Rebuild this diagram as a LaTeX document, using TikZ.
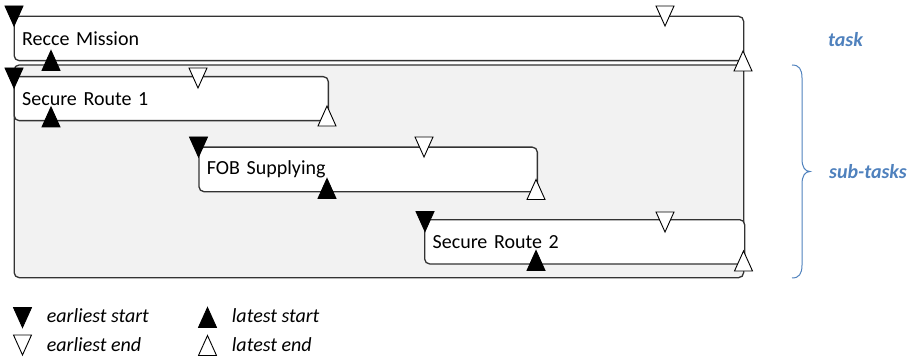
\documentclass[tikz,border=0pt]{standalone}
\usepackage{fontspec}
\setmainfont{Carlito}
\definecolor{officeblue}{HTML}{4F81BD}
\definecolor{subgray}{HTML}{F2F2F2}
\definecolor{edge}{HTML}{333333}
\begin{document}
\begin{tikzpicture}[x=1pt,y=-1pt,
  font=\fontsize{20}{24}\selectfont,
  taskbox/.style={draw=edge, line width=1.3pt, rounded corners=5pt, fill=white,
    anchor=north west, inner xsep=8pt, inner ysep=0pt, align=left},
  groupbox/.style={draw=edge, line width=1.3pt, rounded corners=5pt, fill=subgray,
    anchor=north west, inner sep=0pt},
  tri/.style={draw=black, line width=0.9pt, line join=miter},
  bdown/.pic={\draw[tri, fill=black] (-9,-10) -- (9,-10) -- (0,10) -- cycle;},
  wdown/.pic={\draw[tri, fill=white] (-9,-10) -- (9,-10) -- (0,10) -- cycle;},
  bup/.pic={\draw[tri, fill=black] (-9,10) -- (9,10) -- (0,-10) -- cycle;},
  wup/.pic={\draw[tri, fill=white] (-9,10) -- (9,10) -- (0,-10) -- cycle;},
  legtext/.style={anchor=west, inner sep=0pt, font=\fontsize{20}{24}\selectfont\itshape},
  bluelabel/.style={anchor=west, inner sep=0pt, text=officeblue, font=\fontsize{20}{24}\selectfont\bfseries\itshape},
  brace/.style={draw=officeblue, line width=1pt}
]
\useasboundingbox (0,0) rectangle (912,358);

% task
\node[taskbox, minimum width=729.5pt, minimum height=44.3pt, text width=713.5pt] (recce) at (13.5,15.7) {Recce Mission};
% sub-task group
\node[groupbox, minimum width=729.5pt, minimum height=212.7pt] (subtasks) at (13.5,64.3) {};
% sub-tasks
\node[taskbox, minimum width=314.2pt, minimum height=44pt, text width=298.2pt] (sr1) at (13.5,76) {Secure Route 1};
\node[taskbox, minimum width=338.4pt, minimum height=44.5pt, text width=322.4pt] (fob) at (198.3,146.5) {FOB Supplying};
\node[taskbox, minimum width=320pt, minimum height=44.3pt, text width=304pt] (sr2) at (424,219) {Secure Route 2};

% markers: Recce Mission
\pic (recce-es) at (14,16) {bdown};
\pic (recce-ee) at (665,16) {wdown};
\pic (recce-ls) at (51,60.5) {bup};
\pic (recce-le) at (743,61) {wup};
% Secure Route 1
\pic (sr1-es) at (14,78) {bdown};
\pic (sr1-ee) at (198,78) {wdown};
\pic (sr1-ls) at (51,117) {bup};
\pic (sr1-le) at (327,116) {wup};
% FOB Supplying
\pic (fob-es) at (198.5,147) {bdown};
\pic (fob-ee) at (424,147) {wdown};
\pic (fob-ls) at (327,188.5) {bup};
\pic (fob-le) at (536,189.5) {wup};
% Secure Route 2
\pic (sr2-es) at (425,221.5) {bdown};
\pic (sr2-ee) at (665,222) {wdown};
\pic (sr2-ls) at (536,260.5) {bup};
\pic (sr2-le) at (743.5,261) {wup};

% brace and labels
\draw[brace] (792,65) .. controls (799,65) and (802,69) .. (802,78) -- (802,159)
  .. controls (802,167) and (805,171.5) .. (810,171.5)
  .. controls (805,171.5) and (802,176) .. (802,184) -- (802,265)
  .. controls (802,274) and (799,278) .. (792,278);
\node[bluelabel] (tasklabel) at (828,40) {task};
\node[bluelabel] (sublabel) at (829,172) {sub-tasks};

% legend
\pic (leg-es) at (22.5,317.5) {bdown};
\pic (leg-ee) at (22.5,345) {wdown};
\pic (leg-ls) at (207.5,317.5) {bup};
\pic (leg-le) at (207.5,345.5) {wup};
\node[legtext] (legestext) at (46.7,316) {earliest start};
\node[legtext] (legeetext) at (46.7,345) {earliest end};
\node[legtext] (leglstext) at (231.7,316) {latest start};
\node[legtext] (legletext) at (231.7,345) {latest end};
\end{tikzpicture}
\end{document}
